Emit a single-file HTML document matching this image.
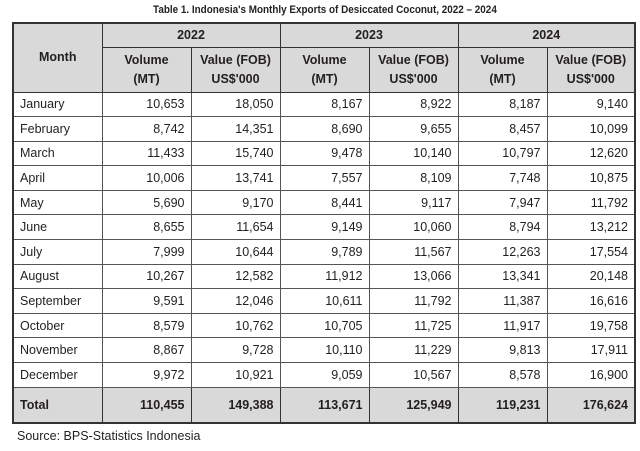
<!DOCTYPE html>
<html><head><meta charset="utf-8"><style>
body{margin:0;width:640px;height:451px;background:#fff;font-family:"Liberation Sans",sans-serif;color:#231f20;position:relative;overflow:hidden}
.title{position:absolute;top:4px;left:153px;font:bold 11px "Liberation Sans",sans-serif;transform:scaleX(0.9);transform-origin:left top;white-space:nowrap}
table{position:absolute;left:12px;top:22px;border-collapse:collapse;table-layout:fixed;font-size:12.5px}
td,th{border:1px solid #555;padding:0 6px;white-space:nowrap}
th{background:#d9d9d9;font-weight:bold;text-align:center;border:1.5px solid #333;line-height:19px}
td{text-align:right;height:23.6px;padding-top:0;padding-bottom:0}
td:first-child{text-align:left}
tr.tot td{background:#d9d9d9;font-weight:bold;height:34px;border:1.5px solid #333}
table{border:2px solid #333}
.src{position:absolute;left:17px;top:429px;font-size:12.5px}
</style></head><body>
<div class="title">Table 1. Indonesia's Monthly Exports of Desiccated Coconut, 2022 – 2024</div>
<table>
<colgroup><col style="width:89px"><col style="width:89px"><col style="width:89px"><col style="width:89px"><col style="width:89px"><col style="width:89px"><col style="width:88px"></colgroup>
<tr style="height:24px"><th rowspan="2">Month</th><th colspan="2">2022</th><th colspan="2">2023</th><th colspan="2">2024</th></tr>
<tr style="height:45px"><th>Volume<br>(MT)</th><th>Value (FOB)<br>US$'000</th><th>Volume<br>(MT)</th><th>Value (FOB)<br>US$'000</th><th>Volume<br>(MT)</th><th>Value (FOB)<br>US$'000</th></tr>
<tr><td>January</td><td>10,653</td><td>18,050</td><td>8,167</td><td>8,922</td><td>8,187</td><td>9,140</td></tr>
<tr><td>February</td><td>8,742</td><td>14,351</td><td>8,690</td><td>9,655</td><td>8,457</td><td>10,099</td></tr>
<tr><td>March</td><td>11,433</td><td>15,740</td><td>9,478</td><td>10,140</td><td>10,797</td><td>12,620</td></tr>
<tr><td>April</td><td>10,006</td><td>13,741</td><td>7,557</td><td>8,109</td><td>7,748</td><td>10,875</td></tr>
<tr><td>May</td><td>5,690</td><td>9,170</td><td>8,441</td><td>9,117</td><td>7,947</td><td>11,792</td></tr>
<tr><td>June</td><td>8,655</td><td>11,654</td><td>9,149</td><td>10,060</td><td>8,794</td><td>13,212</td></tr>
<tr><td>July</td><td>7,999</td><td>10,644</td><td>9,789</td><td>11,567</td><td>12,263</td><td>17,554</td></tr>
<tr><td>August</td><td>10,267</td><td>12,582</td><td>11,912</td><td>13,066</td><td>13,341</td><td>20,148</td></tr>
<tr><td>September</td><td>9,591</td><td>12,046</td><td>10,611</td><td>11,792</td><td>11,387</td><td>16,616</td></tr>
<tr><td>October</td><td>8,579</td><td>10,762</td><td>10,705</td><td>11,725</td><td>11,917</td><td>19,758</td></tr>
<tr><td>November</td><td>8,867</td><td>9,728</td><td>10,110</td><td>11,229</td><td>9,813</td><td>17,911</td></tr>
<tr><td>December</td><td>9,972</td><td>10,921</td><td>9,059</td><td>10,567</td><td>8,578</td><td>16,900</td></tr>
<tr class="tot"><td>Total</td><td>110,455</td><td>149,388</td><td>113,671</td><td>125,949</td><td>119,231</td><td>176,624</td></tr>
</table>
<div class="src">Source: BPS-Statistics Indonesia</div>
</body></html>
